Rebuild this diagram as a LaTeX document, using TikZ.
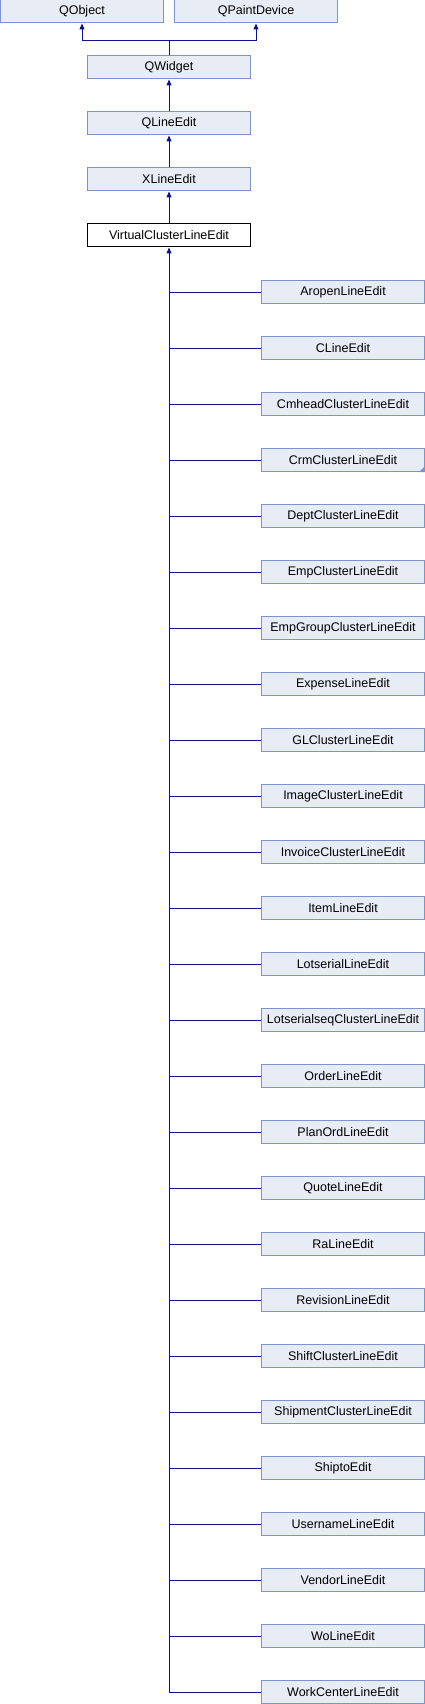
\documentclass[tikz,border=0pt]{standalone}
\usepackage{fontspec}
\setmainfont{Liberation Sans}
\usetikzlibrary{arrows.meta}
\definecolor{boxfill}{HTML}{E8ECF5}
\definecolor{boxline}{HTML}{7D94C8}
\definecolor{edgecol}{HTML}{10108A}
\begin{document}
\begin{tikzpicture}[x=1pt,y=1pt,
  cls/.style={draw=boxline, fill=boxfill, line width=1pt, minimum width=163pt, minimum height=23pt, inner sep=0pt, font=\fontsize{12.5}{14}\selectfont},
  cur/.style={cls, draw=black, fill=white},
  edge/.style={draw=edgecol, line width=1pt},
  inh/.style={edge, -{Triangle[length=6pt,width=5pt]}}]
\useasboundingbox (0,0) rectangle (425,-1704);
\node[cls] (qobject) at (82,-11.5) {QObject};
\node[cls] (qpaint) at (256,-11.5) {QPaintDevice};
\node[cls] (qwidget) at (169,-67.5) {QWidget};
\node[cls] (qline) at (169,-123.5) {QLineEdit};
\node[cls] (xline) at (169,-179.5) {XLineEdit};
\node[cur] (virt) at (169,-235.5) {VirtualClusterLineEdit};
\coordinate (junc) at (169,-40.5);
\draw[edge] (qwidget.north) -- (junc);
\draw[inh] (junc) -| (qobject.south);
\draw[inh] (junc) -| (qpaint.south);
\draw[inh] (qline.north) -- (qwidget.south);
\draw[inh] (xline.north) -- (qline.south);
\draw[inh] (virt.north) -- (xline.south);
\foreach \name [count=\i from 0] in {AropenLineEdit,CLineEdit,CmheadClusterLineEdit,CrmClusterLineEdit,DeptClusterLineEdit,EmpClusterLineEdit,EmpGroupClusterLineEdit,ExpenseLineEdit,GLClusterLineEdit,ImageClusterLineEdit,InvoiceClusterLineEdit,ItemLineEdit,LotserialLineEdit,LotserialseqClusterLineEdit,OrderLineEdit,PlanOrdLineEdit,QuoteLineEdit,RaLineEdit,RevisionLineEdit,ShiftClusterLineEdit,ShipmentClusterLineEdit,ShiptoEdit,UsernameLineEdit,VendorLineEdit,WoLineEdit,WorkCenterLineEdit} {
  \node[cls] (c\i) at (343,-292-56*\i) {\name};
  \coordinate (t\i) at (169,-292-56*\i);
  \draw[edge] (t\i) -- (c\i.west);
}
\draw[inh] (t25) -- (virt.south);
\fill[boxline] (c3.south east) -- ++(0,6) -- ++(-6,-6) -- cycle;
\end{tikzpicture}
\end{document}
